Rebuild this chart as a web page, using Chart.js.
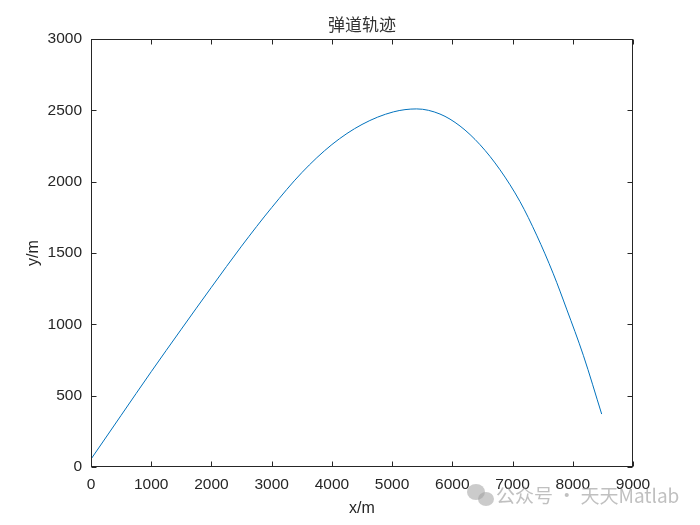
<!DOCTYPE html>
<html>
<head>
<meta charset="utf-8">
<script src="https://cdn.jsdelivr.net/npm/chart.js@4/dist/chart.umd.min.js"></script>
<style>
html,body{margin:0;padding:0;background:#fff;}
#wrap{width:700px;height:525px;position:relative;}
</style>
</head>
<body>
<div id="wrap"><canvas id="c" width="700" height="525"></canvas></div>
<script>
// Data
const xValues = [0, 500, 1000, 1500, 2000, 2500, 3000, 3500, 4000, 4500, 5020, 5408, 5795, 6128, 6460, 6792, 7124, 7400, 7677, 7898, 8175, 8480];
const yValues = [55, 362, 668, 966, 1260, 1548, 1818, 2063, 2260, 2401, 2489, 2510, 2474, 2390, 2259, 2083, 1860, 1625, 1354, 1107, 783, 371];
const xTicks = [0, 1000, 2000, 3000, 4000, 5000, 6000, 7000, 8000, 9000];
const yTicks = [0, 500, 1000, 1500, 2000, 2500, 3000];
const titleText = '弹道轨迹';
const xLabel = 'x/m';
const yLabel = 'y/m';
const watermark = '公众号 · 天天Matlab';

const points = xValues.map((x, i) => ({x: x, y: yValues[i]}));
const axisColor = '#262626';

const boxPlugin = {
  id: 'matlabBox',
  afterDatasetsDraw(chart) {
    const {ctx, chartArea: a, scales: {x, y}} = chart;
    ctx.save();
    ctx.strokeStyle = axisColor;
    ctx.lineWidth = 1;
    const L = Math.round(a.left) + 0.5, R = Math.round(a.right) - 0.5;
    const T = Math.round(a.top) + 0.5, B = Math.round(a.bottom) - 0.5;
    ctx.strokeRect(L, T, R - L, B - T);
    const tl = 5;
    ctx.beginPath();
    xTicks.forEach(v => {
      const px = Math.round(x.getPixelForValue(v)) + 0.5;
      ctx.moveTo(px, B); ctx.lineTo(px, B - tl);
      ctx.moveTo(px, T); ctx.lineTo(px, T + tl);
    });
    yTicks.forEach(v => {
      const py = Math.round(y.getPixelForValue(v)) + 0.5;
      ctx.moveTo(L, py); ctx.lineTo(L + tl, py);
      ctx.moveTo(R, py); ctx.lineTo(R - tl, py);
    });
    ctx.stroke();
    ctx.restore();
  },
  afterDraw(chart) {
    const {ctx, chartArea: a} = chart;
    ctx.save();
    // title centred over the plot box
    ctx.fillStyle = '#333333';
    ctx.font = '17px "Noto Sans CJK SC", sans-serif';
    ctx.textAlign = 'center';
    ctx.textBaseline = 'middle';
    ctx.fillText(titleText, (a.left + a.right) / 2, 25);
    // watermark icon (two chat bubbles)
    ctx.fillStyle = 'rgba(160,160,160,0.55)';
    ctx.beginPath(); ctx.ellipse(476, 492, 9, 8, 0, 0, Math.PI * 2); ctx.fill();
    ctx.beginPath(); ctx.ellipse(486, 499, 8, 7, 0, 0, Math.PI * 2); ctx.fill();
    ctx.fillStyle = 'rgba(150,150,150,0.6)';
    ctx.font = '19px "Noto Sans CJK SC", "Noto Sans", sans-serif';
    ctx.textAlign = 'left';
    ctx.fillText(watermark, 496, 496);
    ctx.restore();
  }
};

const plainNum = v => String(v);

new Chart(document.getElementById('c'), {
  type: 'line',
  data: {
    datasets: [{
      data: points,
      borderColor: '#0072BD',
      borderWidth: 1,
      pointRadius: 0,
      fill: false,
      cubicInterpolationMode: 'monotone'
    }]
  },
  options: {
    responsive: false,
    animation: false,
    layout: {padding: {left: 0, right: 67, top: 39, bottom: 0}},
    plugins: {
      legend: {display: false},
      tooltip: {enabled: false},
      title: {display: false}
    },
    scales: {
      x: {
        type: 'linear',
        min: 0, max: 9000,
        afterBuildTicks: s => { s.ticks = xTicks.map(v => ({value: v})); },
        afterFit: s => { s.height = 58; },
        grid: {display: false, drawTicks: false, tickLength: 0},
        border: {display: false},
        ticks: {color: axisColor, padding: 8, maxRotation: 0, autoSkip: false, callback: plainNum,
          font: {family: '"Liberation Sans", Arial, sans-serif', size: 15.5}},
        title: {display: true, text: xLabel, color: axisColor,
          font: {family: '"Liberation Sans", Arial, sans-serif', size: 16},
          padding: {top: 0, bottom: 7}}
      },
      y: {
        type: 'linear',
        min: 0, max: 3000,
        afterBuildTicks: s => { s.ticks = yTicks.map(v => ({value: v})); },
        afterFit: s => { s.width = 91; },
        grid: {display: false, drawTicks: false, tickLength: 0},
        border: {display: false},
        ticks: {color: axisColor, padding: 9, autoSkip: false, callback: plainNum,
          font: {family: '"Liberation Sans", Arial, sans-serif', size: 15.5}},
        title: {display: true, text: yLabel, color: axisColor,
          font: {family: '"Liberation Sans", Arial, sans-serif', size: 16},
          padding: {top: 24, bottom: 0}}
      }
    }
  },
  plugins: [boxPlugin]
});
</script>
</body>
</html>
